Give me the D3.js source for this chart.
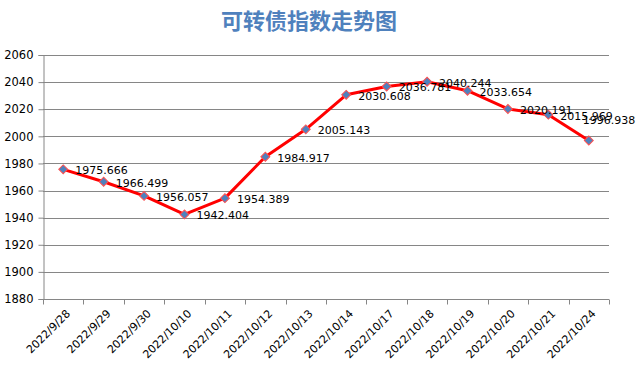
<!DOCTYPE html>
<html>
<head>
<meta charset="utf-8">
<script src="https://cdn.jsdelivr.net/npm/d3@7"></script>
<style>
  body { margin: 0; background: #fff; }
  svg { display: block; }
</style>
</head>
<body>
<div id="chart"></div>
<script>
const title = '可转债指数走势图';
const dates = ['2022/9/28', '2022/9/29', '2022/9/30', '2022/10/10', '2022/10/11', '2022/10/12', '2022/10/13',
  '2022/10/14', '2022/10/17', '2022/10/18', '2022/10/19', '2022/10/20', '2022/10/21', '2022/10/24'];
const indexValues = [1975.666, 1966.499, 1956.057, 1942.404, 1954.389, 1984.917, 2005.143,
  2030.608, 2036.781, 2040.244, 2033.654, 2020.191, 2015.969, 1996.938];
const yTicks = [1880, 1900, 1920, 1940, 1960, 1980, 2000, 2020, 2040, 2060];

const
  totalWidth = 636,
  totalHeight = 365;
const
  plot = { left: 43, right: 609, top: 55, bottom: 299 };

const svg = d3.select('#chart').append('svg')
  .attr('width', totalWidth)
  .attr('height', totalHeight);

//--------------------- Title -------------------------------------------------
svg.append('text')
  .attr('x', 309)
  .attr('y', 29)
  .attr('text-anchor', 'middle')
  .style('font-family', '"Noto Sans CJK SC", sans-serif')
  .style('font-size', '22px')
  .style('font-weight', 'bold')
  .style('fill', '#4F81BD')
  .text(title);

//--------------------- Scales ------------------------------------------------
const xScale = d3.scaleBand().domain(dates).range([plot.left, plot.right]);
const yScale = d3.scaleLinear().domain([1880, 2060]).range([plot.bottom, plot.top]);

//--------------------- Grid --------------------------------------------------
svg.append('g')
  .selectAll('line')
  .data(yTicks.slice(1))
  .enter()
  .append('line')
  .attr('x1', plot.left)
  .attr('x2', plot.right)
  .attr('y1', d => Math.round(yScale(d)) + 0.5)
  .attr('y2', d => Math.round(yScale(d)) + 0.5)
  .style('stroke', '#868686')
  .style('stroke-width', 1);

//--------------------- Axis --------------------------------------------------
const yAxis = d3.axisLeft(yScale).tickValues(yTicks).tickSize(5).tickPadding(5).tickFormat(d3.format('d'));
const yAxisView = svg.append('g')
  .attr('transform', 'translate(' + (plot.left + 0.5) + ', 0)')
  .call(yAxis);
yAxisView.select('.domain').style('stroke', '#868686');
yAxisView.selectAll('line').style('stroke', '#868686');
yAxisView.selectAll('text')
  .style('font-family', '"DejaVu Sans", sans-serif')
  .style('font-size', '11.5px')
  .style('fill', '#000');

const xAxisView = svg.append('g')
  .attr('transform', 'translate(0, ' + (plot.bottom + 0.5) + ')');
xAxisView.append('line')
  .attr('x1', plot.left)
  .attr('x2', plot.right)
  .style('stroke', '#868686');
xAxisView.selectAll('line.tick')
  .data(dates.concat(['end']))
  .enter()
  .append('line')
  .attr('class', 'tick')
  .attr('x1', (d, i) => Math.round(plot.left + i * xScale.step()) + 0.5)
  .attr('x2', (d, i) => Math.round(plot.left + i * xScale.step()) + 0.5)
  .attr('y1', 0)
  .attr('y2', 5)
  .style('stroke', '#868686');
xAxisView.selectAll('text')
  .data(dates)
  .enter()
  .append('text')
  .attr('transform', d => 'translate(' + (xScale(d) + xScale.bandwidth() / 2 + 5) + ', 12) rotate(-45)')
  .attr('text-anchor', 'end')
  .attr('dy', '0.35em')
  .style('font-family', '"DejaVu Sans", sans-serif')
  .style('font-size', '11px')
  .style('fill', '#000')
  .text(d => d);

//--------------------- Line --------------------------------------------------
const cx = d => xScale(d) + xScale.bandwidth() / 2;
const points = dates.map((d, i) => ({ date: d, value: indexValues[i] }));

const line = d3.line()
  .x(d => cx(d.date))
  .y(d => yScale(d.value));

svg.append('path')
  .datum(points)
  .attr('d', line)
  .style('fill', 'none')
  .style('stroke', '#FF0000')
  .style('stroke-width', 3)
  .style('stroke-linejoin', 'round');

svg.append('g')
  .selectAll('path')
  .data(points)
  .enter()
  .append('path')
  .attr('d', d3.symbol(d3.symbolSquare, 40))
  .attr('transform', d => 'translate(' + cx(d.date) + ', ' + yScale(d.value) + ') rotate(45)')
  .style('fill', '#4F81BD')
  .style('stroke', '#FF5050')
  .style('stroke-width', 1);

//--------------------- Labels ------------------------------------------------
// last label does not fit on the right, so it sits above its point
const isLast = i => i === points.length - 1;
svg.append('g')
  .selectAll('text')
  .data(points)
  .enter()
  .append('text')
  .attr('x', (d, i) => isLast(i) ? cx(d.date) - 6 : cx(d.date) + 12)
  .attr('y', (d, i) => isLast(i) ? yScale(d.value) - 20 : yScale(d.value) + 1)
  .attr('dy', '0.35em')
  .style('font-family', '"DejaVu Sans", sans-serif')
  .style('font-size', '11px')
  .style('fill', '#000')
  .text(d => d3.format('.3f')(d.value));
</script>
</body>
</html>
